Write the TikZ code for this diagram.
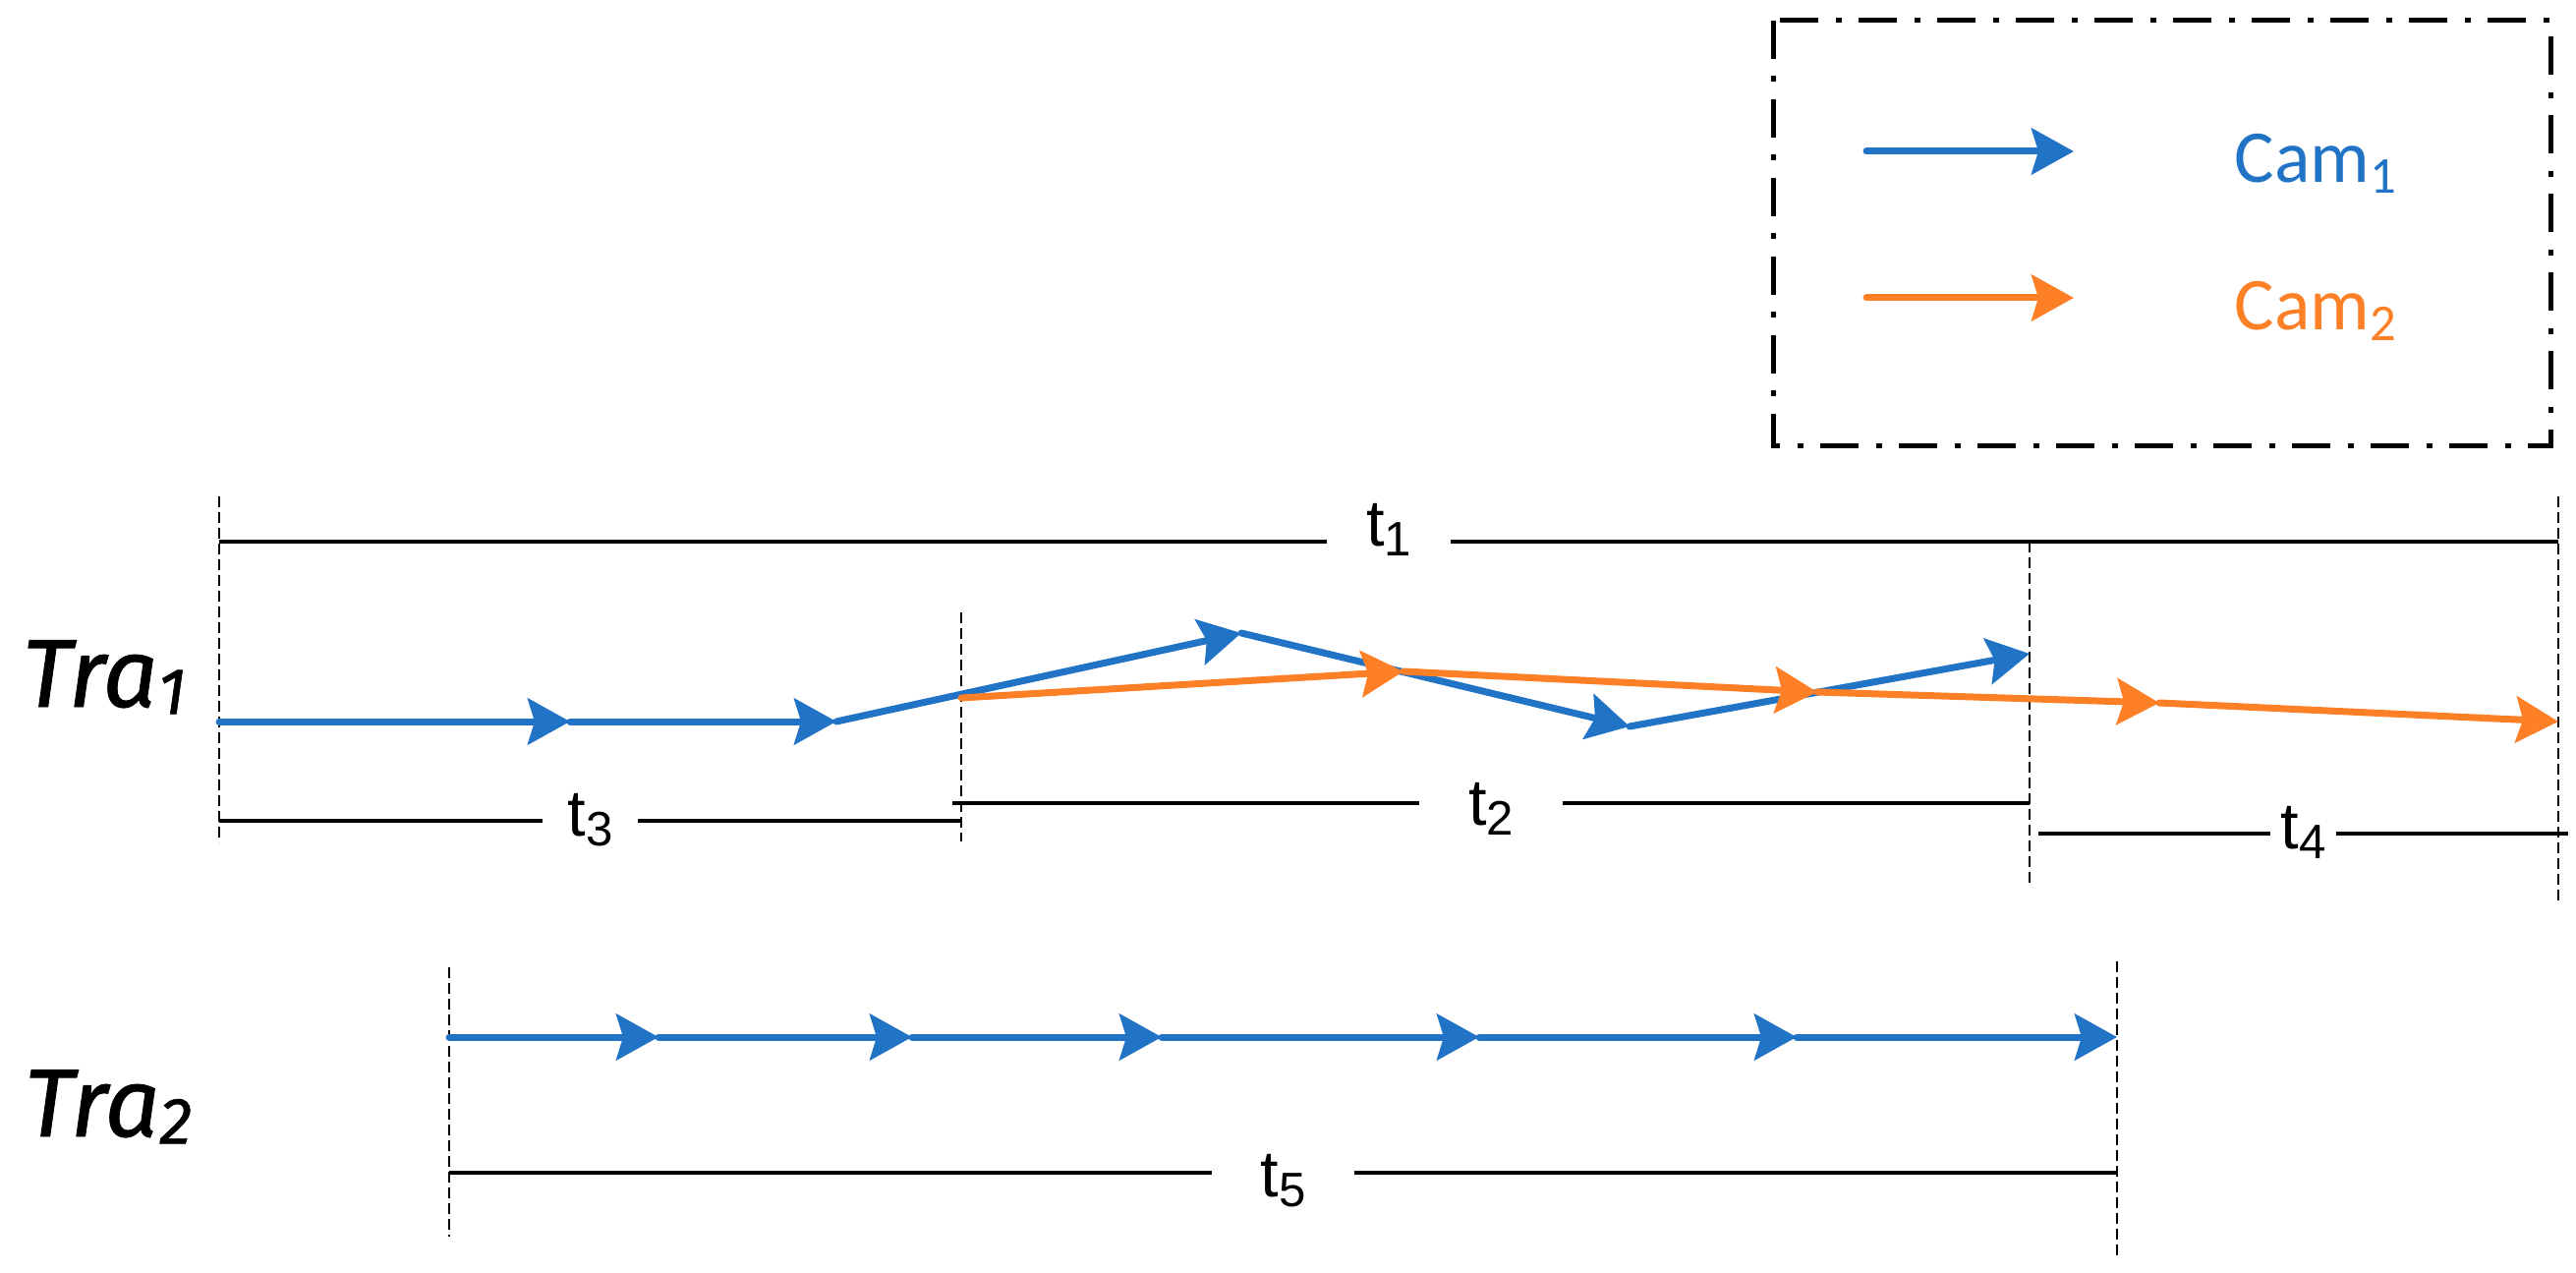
\documentclass[tikz,border=0pt]{standalone}
\usepackage{fontspec}
\usetikzlibrary{arrows.meta}
\newfontfamily\tfont{Liberation Sans}
\newfontfamily\camfont{Carlito}
\newfontfamily\trafont[FakeBold=0.8]{Fira Sans}
\definecolor{myblue}{RGB}{33,115,198}
\definecolor{myorange}{RGB}{253,127,38}
\newcommand{\tsub}[1]{\raisebox{-3.1pt}{\fontsize{14pt}{14pt}\selectfont #1}}
\newcommand{\camsub}[1]{\raisebox{-3.1pt}{\fontsize{15pt}{15pt}\selectfont #1}}
\newcommand{\trasub}[1]{\raisebox{-2.1pt}{\fontsize{19pt}{19pt}\selectfont #1}}

\tikzset{
    traj/.style={line width=0.7mm, line cap=round,
        -{Stealth[length=4.3mm, width=4.7mm, inset=0.7mm]}},
    guide/.style={line width=0.2mm, dash pattern=on 1.1mm off 0.5mm},
    span/.style={line width=0.35mm},
    tlab/.style={fill=white, inner ysep=0pt, anchor=base,
        font=\tfont\fontsize{19pt}{19pt}\selectfont},
    camlab/.style={anchor=base west, inner sep=0pt,
        font=\camfont\fontsize{21.6pt}{22pt}\selectfont},
    tralab/.style={anchor=base west, inner sep=0pt,
        font=\trafont\itshape\fontsize{28pt}{28pt}\selectfont},
    legendbox/.style={line width=0.5mm,
        dash pattern=on 3.9mm off 1.75mm on 0.6mm off 1.75mm},
}

\begin{document}
\begin{tikzpicture}[x=0.1mm, y=-0.1mm]
    \useasboundingbox (0,0) rectangle (2621,1295);

    % Legend
    \coordinate (lgnw) at (1804,21);
    \coordinate (lgse) at (2595,453);
    \draw[legendbox] (lgnw) rectangle (lgse);
    \coordinate (k1a) at (1899,154);
    \coordinate (k1b) at (2110,154);
    \coordinate (k2a) at (1899,303);
    \coordinate (k2b) at (2110,303);
    \draw[traj, myblue] (k1a) -- (k1b);
    \draw[traj, myorange] (k2a) -- (k2b);
    \node[camlab, myblue] (cam1) at (2273,186) {Cam\camsub{1}};
    \node[camlab, myorange] (cam2) at (2273,336) {Cam\camsub{2}};

    % Labels of the two tracks
    \node[tralab] (tra1) at (22,719) {Tra\trasub{1}};
    \node[tralab] (tra2) at (24,1156) {Tra\trasub{2}};

    % Guides
    \coordinate (g1a) at (223,505);  \coordinate (g1b) at (223,857);
    \coordinate (g2a) at (978,623);  \coordinate (g2b) at (978,856);
    \coordinate (g3a) at (2065,551); \coordinate (g3b) at (2065,902);
    \coordinate (g4a) at (2603,505); \coordinate (g4b) at (2603,918);
    \coordinate (g5a) at (457,984);  \coordinate (g5b) at (457,1258);
    \coordinate (g6a) at (2154,978); \coordinate (g6b) at (2154,1277);
    \draw[guide] (g1a) -- (g1b);
    \draw[guide] (g2a) -- (g2b);
    \draw[guide] (g3a) -- (g3b);
    \draw[guide] (g4a) -- (g4b);
    \draw[guide] (g5a) -- (g5b);
    \draw[guide] (g6a) -- (g6b);

    % Time spans
    \coordinate (s1a) at (223,551);  \coordinate (s1b) at (2603,551);
    \coordinate (s3a) at (223,835);  \coordinate (s3b) at (978,835);
    \coordinate (s2a) at (969,817);  \coordinate (s2b) at (2065,817);
    \coordinate (s4a) at (2074,848); \coordinate (s4b) at (2613,848);
    \coordinate (s5a) at (457,1193); \coordinate (s5b) at (2154,1193);
    \draw[span] (s1a) -- node[tlab, yshift=-0.4mm, inner xsep=4mm] (t1) {t\tsub{1}} (s1b);
    \draw[span] (s3a) -- node[tlab, yshift=-1.5mm, inner xsep=2.6mm] (t3) {t\tsub{3}} (s3b);
    \draw[span] (s2a) -- node[tlab, yshift=-2.2mm, inner xsep=5mm] (t2) {t\tsub{2}} (s2b);
    \draw[span] (s4a) -- node[tlab, yshift=-1.5mm, inner xsep=1.1mm] (t4) {t\tsub{4}} (s4b);
    \draw[span] (s5a) -- node[tlab, yshift=-2.4mm, inner xsep=5mm] (t5) {t\tsub{5}} (s5b);

    % Tra1, camera 1
    \coordinate (a0) at (223,734);
    \coordinate (a1) at (580,734);
    \coordinate (a2) at (851,734);
    \coordinate (a3) at (1263,644);
    \coordinate (a4) at (1658,739);
    \coordinate (a5) at (2065,665);
    \draw[traj, myblue] (a0) -- (a1);
    \draw[traj, myblue] (a1) -- (a2);
    \draw[traj, myblue] (a2) -- (a3);
    \draw[traj, myblue] (a3) -- (a4);
    \draw[traj, myblue] (a4) -- (a5);

    % Tra1, camera 2
    \coordinate (b0) at (978,710);
    \coordinate (b1) at (1428,683);
    \coordinate (b2) at (1849,704);
    \coordinate (b3) at (2197,715);
    \coordinate (b4) at (2603,734);
    \draw[traj, myorange] (b0) -- (b1);
    \draw[traj, myorange] (b1) -- (b2);
    \draw[traj, myorange] (b2) -- (b3);
    \draw[traj, myorange] (b3) -- (b4);

    % Tra2, camera 1
    \coordinate (c0) at (457,1055);
    \coordinate (c1) at (670,1055);
    \coordinate (c2) at (928,1055);
    \coordinate (c3) at (1182,1055);
    \coordinate (c4) at (1505,1055);
    \coordinate (c5) at (1828,1055);
    \coordinate (c6) at (2154,1055);
    \draw[traj, myblue] (c0) -- (c1);
    \draw[traj, myblue] (c1) -- (c2);
    \draw[traj, myblue] (c2) -- (c3);
    \draw[traj, myblue] (c3) -- (c4);
    \draw[traj, myblue] (c4) -- (c5);
    \draw[traj, myblue] (c5) -- (c6);
\end{tikzpicture}
\end{document}
